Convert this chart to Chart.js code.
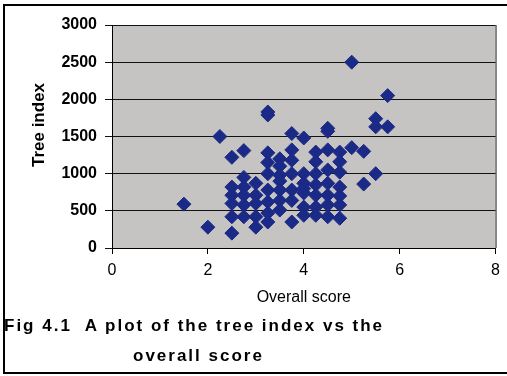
<!DOCTYPE html>
<html>
<head>
<meta charset="utf-8">
<script src="https://cdn.jsdelivr.net/npm/chart.js@4.4.1/dist/chart.umd.min.js"></script>
<style>
  html, body { margin: 0; padding: 0; background: #fff; overflow: hidden; }
  #wrap { position: relative; width: 507px; height: 376px; }
  #plot { position: absolute; left: 0; top: 0; }
  .cap { position: absolute; font: bold 17px "Liberation Sans", Arial, sans-serif; letter-spacing: 2px; line-height: 20px; color: #000; white-space: pre; }
</style>
</head>
<body>
<div id="wrap">
  <canvas id="plot" width="507" height="376"></canvas>
  <div class="cap" style="left:4px; top:316px;">Fig 4.1  A plot of the tree index vs the</div>
  <div class="cap" style="left:133px; top:346px;">overall score</div>
</div>
<script>
// Overall score of each site (x) and its tree index (y)
const overallScore = [
  1.5, 2.0, 2.25, 2.5, 2.75, 3.25, 3.25, 3.25, 3.75, 4.0,
  4.5, 4.5, 5.0, 5.75, 5.5, 5.5, 5.75, 5.0, 5.25, 5.5,
  5.25, 4.25, 4.5, 4.75,
  2.5, 2.5, 2.5, 2.5, 2.5,
  2.75, 2.75, 2.75, 2.75, 2.75,
  3.0, 3.0, 3.0, 3.0, 3.0,
  3.25, 3.25, 3.25, 3.25, 3.25, 3.25,
  3.5, 3.5, 3.5, 3.5, 3.5, 3.5, 3.5,
  3.75, 3.75, 3.75, 3.75, 3.75, 3.75,
  4.0, 4.0, 4.0, 4.0, 4.0, 4.0,
  4.25, 4.25, 4.25, 4.25, 4.25, 4.25,
  4.5, 4.5, 4.5, 4.5, 4.5,
  4.75, 4.75, 4.75, 4.75, 4.75, 4.75
];
const treeIndex = [
  590, 280, 1500, 1220, 1310, 1830, 1790, 1280, 1540, 1480,
  1610, 1570, 2500, 2050, 1740, 1630, 1630, 1350, 1300, 1000,
  860, 1290, 1320, 1290,
  820, 710, 600, 420, 200,
  950, 820, 710, 580, 420,
  870, 710, 600, 420, 280,
  1150, 1000, 780, 620, 470, 350,
  1200, 1100, 980, 900, 780, 640, 510,
  1320, 1180, 1000, 780, 640, 350,
  1000, 870, 800, 740, 550, 440,
  1160, 1000, 850, 710, 550, 440,
  1050, 870, 710, 580, 420,
  1160, 1020, 820, 700, 580, 400
];
const xTicks = [0, 2, 4, 6, 8];
const yTicks = [0, 500, 1000, 1500, 2000, 2500, 3000];

const FONT = '"Liberation Sans", Arial, sans-serif';

const points = overallScore.map((x, i) => ({ x: x, y: treeIndex[i] }));

// grey plot area, outer frame and the rotated y title
const decor = {
  id: 'decor',
  beforeDraw(chart) {
    const { ctx, chartArea: a } = chart;
    ctx.save();
    ctx.fillStyle = '#c6c4c2';
    ctx.fillRect(a.left, a.top, a.right - a.left, a.bottom - a.top);
    ctx.strokeStyle = '#222';
    ctx.lineWidth = 1;
    ctx.beginPath();
    ctx.moveTo(a.right + 0.5, a.top);
    ctx.lineTo(a.right + 0.5, a.bottom);
    ctx.stroke();
    ctx.restore();
  },
  afterDraw(chart) {
    const { ctx } = chart;
    ctx.save();
    ctx.strokeStyle = '#000';
    ctx.lineWidth = 2;
    ctx.beginPath();
    ctx.moveTo(507, 5);
    ctx.lineTo(4, 5);
    ctx.lineTo(4, 373);
    ctx.lineTo(507, 373);
    ctx.stroke();
    ctx.translate(39, 125);
    ctx.rotate(-Math.PI / 2);
    ctx.fillStyle = '#000';
    ctx.font = 'bold 17px ' + FONT;
    ctx.textAlign = 'center';
    ctx.textBaseline = 'middle';
    ctx.fillText('Tree index', 0, 0);
    ctx.restore();
  }
};

new Chart(document.getElementById('plot'), {
  type: 'scatter',
  data: {
    datasets: [{
      data: points,
      pointStyle: 'rectRot',
      pointRadius: 7,
      pointHoverRadius: 7,
      backgroundColor: '#1b2a86',
      borderColor: '#1b2a86',
      borderWidth: 1
    }]
  },
  options: {
    responsive: false,
    animation: false,
    events: [],
    layout: { padding: { left: 0, top: 25, right: 5, bottom: 0 } },
    plugins: { legend: { display: false }, tooltip: { enabled: false } },
    scales: {
      x: {
        type: 'linear',
        min: 0, max: 8,
        afterFit(s) { s.height = 128; },
        afterBuildTicks(s) { s.ticks = xTicks.map(v => ({ value: v })); },
        grid: { drawOnChartArea: false, drawTicks: true, tickLength: 6, color: '#000', lineWidth: 1 },
        border: { color: '#000', width: 1 },
        ticks: { color: '#000', padding: 7, font: { family: FONT, size: 16 }, callback: v => String(v) },
        title: {
          display: true, text: 'Overall score', color: '#000',
          font: { family: FONT, size: 16 },
          padding: { top: 0, bottom: 69 }
        }
      },
      y: {
        type: 'linear',
        min: 0, max: 3000,
        afterFit(s) { s.width = 112; },
        afterBuildTicks(s) { s.ticks = yTicks.map(v => ({ value: v })); },
        grid: { color: '#111', lineWidth: 1, tickLength: 7 },
        border: { color: '#000', width: 1 },
        ticks: { color: '#000', padding: 8, font: { family: FONT, size: 16, weight: 'bold' }, callback: v => String(v) }
      }
    }
  },
  plugins: [decor]
});
</script>
</body>
</html>
